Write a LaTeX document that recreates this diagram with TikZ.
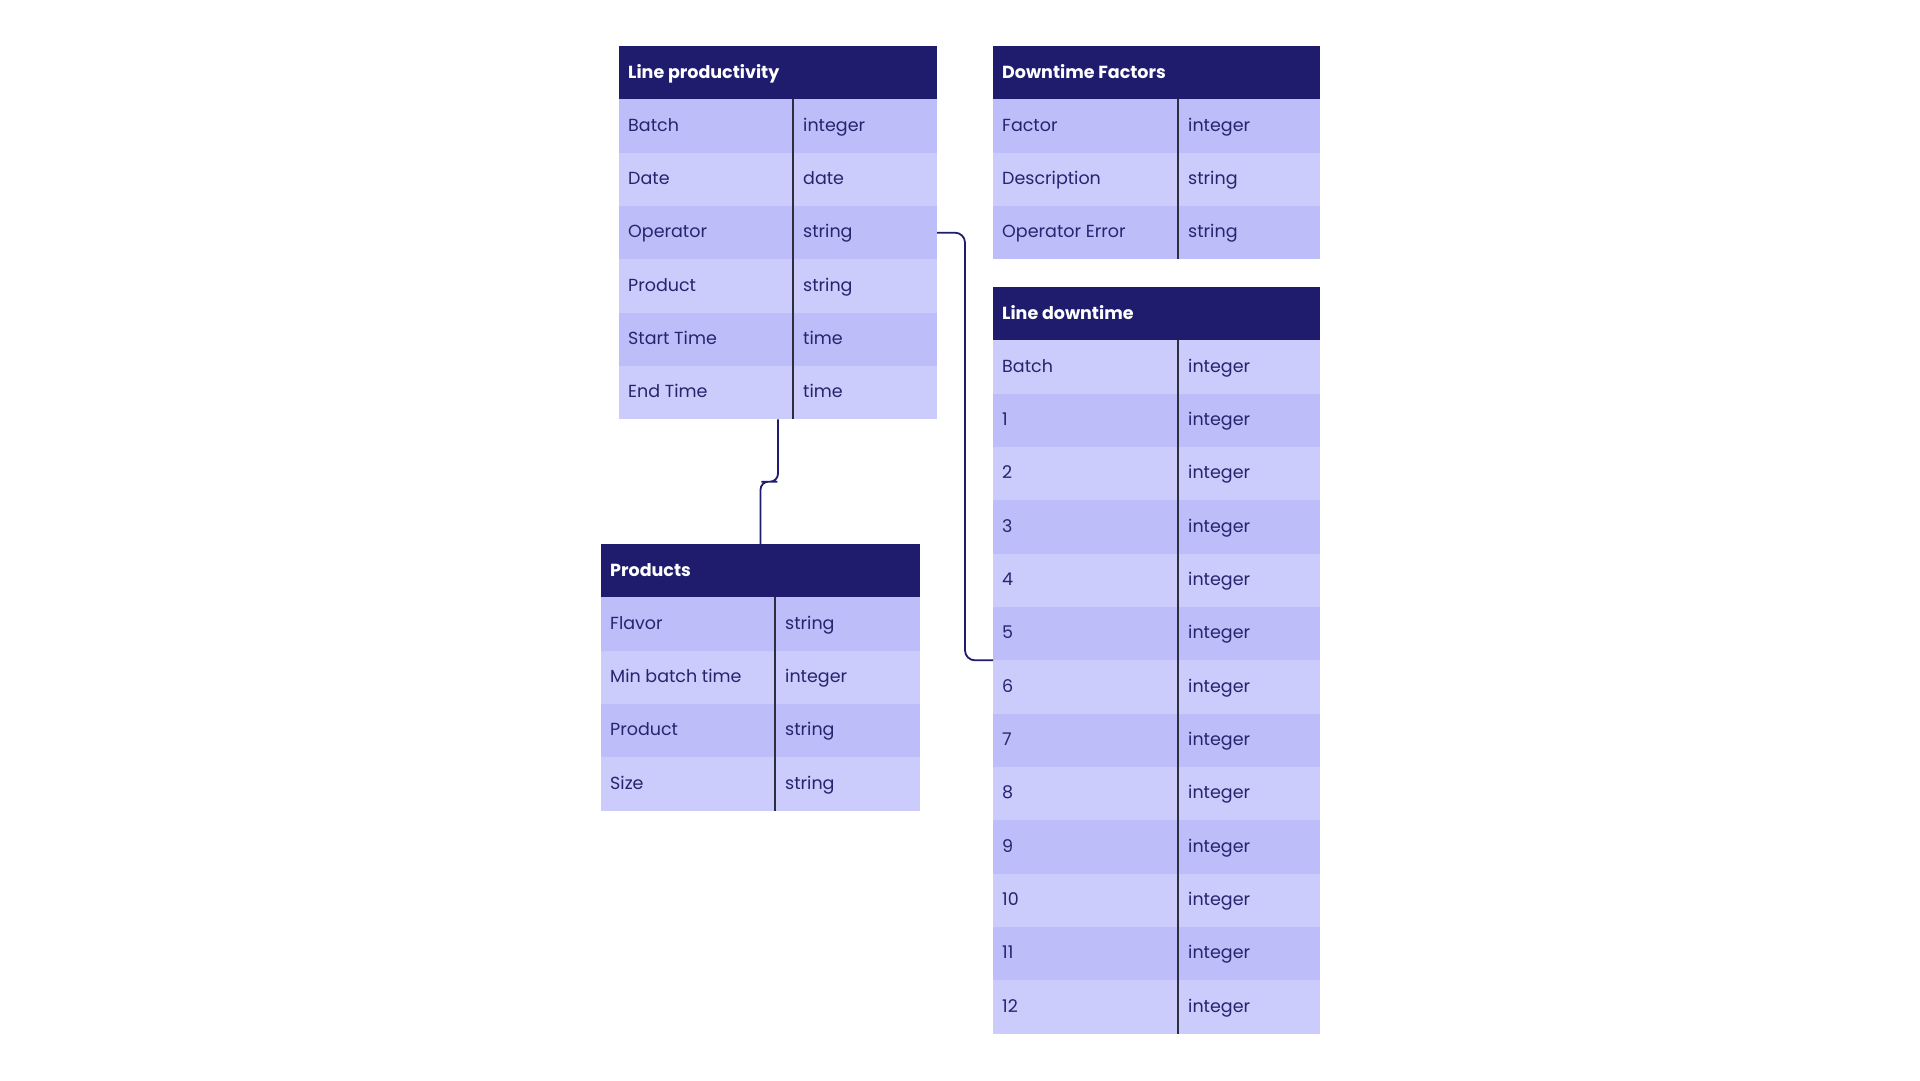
\documentclass[tikz,border=0pt]{standalone}
\usepackage{fontspec}
\setmainfont{Poppins}
\usetikzlibrary{calc}
\definecolor{hdr}{HTML}{1F1C6E}
\definecolor{rowA}{HTML}{BDBDFA}
\definecolor{rowB}{HTML}{CBCBFC}
\definecolor{txt}{HTML}{27246E}
\definecolor{divl}{HTML}{2E2E3E}
\tikzset{
  tblbox/.style={inner sep=0pt, outer sep=0pt, anchor=north west},
  celltext/.style={anchor=base west, inner sep=0pt, text=txt, font=\fontsize{17.5}{20}\selectfont},
  hdrtext/.style={anchor=base west, inner sep=0pt, text=white, font=\fontsize{17.5}{20}\selectfont\bfseries},
  divider/.style={draw=divl, line width=1.4pt},
  connector/.style={draw=hdr, line width=1.8pt},
}
\def\erpar{0}
% #1 name, #2 left, #3 top, #4 divider x, #5 right, #6 number of rows, #7 title, #8 rows
\newcommand\ertable[8]{%
  \node[tblbox, minimum width={#5-#2}, minimum height={(#6+1)*53.333}] (#1) at (#2,#3) {};
  \fill[hdr] (#2,#3) rectangle (#5,{#3+53.333});
  \node[hdrtext] (#1-h) at ({#2+9},{#3+26.667+5.5}) {#7};
  \foreach \f/\t [count=\i from 0] in {#8} {
    \pgfmathtruncatemacro\odd{mod(\i+\erpar,2)}
    \ifnum\odd=0 \def\rc{rowA}\else\def\rc{rowB}\fi
    \fill[\rc] (#2,{#3+53.333*(\i+1)}) rectangle (#5,{#3+53.333*(\i+2)});
    \node[celltext] (#1-f\i) at ({#2+9},{#3+53.333*(\i+1.5)+5.2}) {\f};
    \node[celltext] (#1-t\i) at ({#4+10},{#3+53.333*(\i+1.5)+5.2}) {\t};
  }
  \draw[divider] (#4,{#3+53.333}) -- (#4,{#3+53.333*(#6+1)});
}
\begin{document}
\begin{tikzpicture}[x=1pt,y=-1pt]
\useasboundingbox[fill=white] (0,0) rectangle (1920,1080);

\def\erpar{0}
\ertable{lp}{619}{46}{793}{937}{6}{Line productivity}{Batch/integer, Date/date, Operator/string, Product/string, Start Time/time, End Time/time}

\ertable{df}{993}{46}{1178}{1320}{3}{Downtime Factors}{Factor/integer, Description/string, Operator Error/string}

\ertable{pr}{601}{544}{775}{920}{4}{Products}{Flavor/string, Min batch time/integer, Product/string, Size/string}

\def\erpar{1}
\ertable{ld}{993}{287}{1178}{1320}{13}{Line downtime}{Batch/integer, 1/integer, 2/integer, 3/integer, 4/integer, 5/integer, 6/integer, 7/integer, 8/integer, 9/integer, 10/integer, 11/integer, 12/integer}

\draw[connector, rounded corners=8pt] (lp.south) |- ($(lp.south)!0.5!(pr.north)$) -| (pr.north);
\draw[connector, rounded corners=10pt] (lp.east) -| ($(lp.east)!0.5!(ld.west)$) |- (ld.west);
\end{tikzpicture}
\end{document}
